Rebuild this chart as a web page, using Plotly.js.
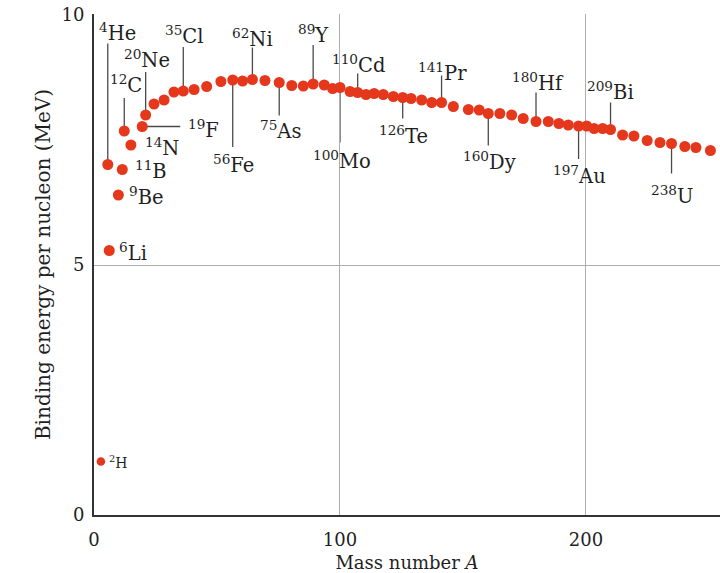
<!DOCTYPE html>
<html>
<head>
<meta charset="utf-8">
<script src="https://cdn.plot.ly/plotly-3.0.1.min.js"></script>
<style>
html,body{margin:0;padding:0;background:#fff;}
#chart{width:720px;height:573px;}
</style>
</head>
<body>
<div id="chart"></div>
<script>
// ---- data ----
const massNumber = [2.8, 5.6, 6.2, 9.9, 11.5, 12.3, 15.0, 19.6, 21.0, 24.4,
  28.5, 32.5, 36.3, 40.7, 45.8, 51.6, 56.4, 60.4, 64.4, 69.5,
  75.3, 80.4, 85.1, 89.1, 93.6, 97.0, 100.0, 104.1, 107.2, 110.6,
  113.9, 117.6, 121.7, 125.5, 128.9, 133.2, 137.3, 141.3, 146.1, 152.2,
  156.6, 160.3, 165.0, 169.8, 174.5, 179.7, 184.7, 189.0, 192.8, 197.0,
  200.3, 203.3, 206.8, 210.0, 214.9, 219.5, 224.9, 230.1, 234.8, 240.2,
  244.7, 250.6];
const bindingEnergy = [1.07, 7.01, 5.29, 6.40, 6.91, 7.68, 7.40, 7.77, 8.00, 8.22,
  8.30, 8.46, 8.48, 8.51, 8.57, 8.67, 8.70, 8.68, 8.71, 8.69,
  8.65, 8.59, 8.58, 8.62, 8.60, 8.53, 8.55, 8.47, 8.45, 8.41,
  8.43, 8.41, 8.37, 8.35, 8.33, 8.30, 8.25, 8.25, 8.17, 8.11,
  8.10, 8.03, 8.03, 8.00, 7.93, 7.87, 7.87, 7.83, 7.80, 7.78,
  7.78, 7.73, 7.73, 7.71, 7.60, 7.58, 7.49, 7.45, 7.43, 7.37,
  7.35, 7.29];

// labelled nuclides: index of the point, mass number text, element symbol
const labelPoint   = [0, 1, 2, 3, 4, 5, 6, 7, 8, 12, 16, 18, 20, 23, 26, 28, 33, 37, 41, 45, 49, 53, 58];
const labelMass    = ['2','4','6','9','11','12','14','19','20','35','56','62','75','89','100','110','126','141','160','180','197','209','238'];
const labelElement = ['H','He','Li','Be','B','C','N','F','Ne','Cl','Fe','Ni','As','Y','Mo','Cd','Te','Pr','Dy','Hf','Au','Bi','U'];

const xTickVals = [0, 100, 200];
const yTickVals = [0, 5, 10];

// ---- label placement (pixels, relative to the point) ----
const labelDx     = [6, 10, 8, 9, 11, 2, 12, 44, 1, 1, 1, 0, 1, 0, 2, 1, 1, 1, 1, 2, 1, 0, 0];
const labelDy     = [0, 133, -1, -1, 0, 47, -2, -2, 56, 56, -84, 42, -47, 50, -72, 29, -37, 31, -47, 40, -49, 39, -51];
const labelAnchor = ['left','center','left','left','left','center','left','left','center','center','center','center','center','center','center','center','center','center','center','center','center','center','center'];
// leader: 0 none, positive up, negative down (pixels); 'h' horizontal
const leaderLen   = [0, 121, 0, 0, 0, 33, 0, 'h', 43, 44, -67, 32, -33, 39, -55, 19, -21, 27, -32, 29, -33, 27, -30];
const horizLeader = 38;

const FONT = 'DejaVu Serif, Liberation Serif, serif';
const TXT = '#1f1f1f';
const DOT = '#e5371b';

const trace = {
  type: 'scatter',
  mode: 'markers',
  x: massNumber,
  y: bindingEnergy,
  marker: {
    color: DOT,
    opacity: 1,
    size: massNumber.map((_, i) => i === 0 ? 8.5 : 11),
    line: {width: 0}
  },
  hoverinfo: 'x+y',
  cliponaxis: false
};

const annotations = labelPoint.map((p, k) => ({
  xref: 'x', yref: 'y',
  x: massNumber[p], y: bindingEnergy[p],
  text: '<sup>' + labelMass[k] + '</sup>' + labelElement[k],
  showarrow: false,
  xanchor: labelAnchor[k], yanchor: 'middle',
  xshift: labelDx[k], yshift: labelDy[k],
  font: {family: FONT, size: k === 0 ? 14 : 19.5, color: TXT}
}));

const shapes = [];
labelPoint.forEach((p, k) => {
  const L = leaderLen[k];
  if (L === 0) return;
  if (L === 'h') {
    shapes.push({
      type: 'line', layer: 'below',
      xref: 'x', yref: 'y',
      xsizemode: 'pixel', xanchor: massNumber[p],
      x0: 0, x1: horizLeader,
      y0: bindingEnergy[p], y1: bindingEnergy[p],
      line: {color: '#4a4a4a', width: 1.3}
    });
  } else {
    shapes.push({
      type: 'line', layer: 'below',
      xref: 'x', yref: 'y',
      x0: massNumber[p], x1: massNumber[p],
      ysizemode: 'pixel', yanchor: bindingEnergy[p],
      y0: 0, y1: L,
      line: {color: '#4a4a4a', width: 1.3}
    });
  }
});

const layout = {
  width: 720, height: 573,
  margin: {l: 94, r: 0, t: 14, b: 58},
  paper_bgcolor: '#ffffff',
  plot_bgcolor: '#ffffff',
  showlegend: false,
  font: {family: FONT, color: TXT, size: 18},
  xaxis: {
    range: [0, 254.5],
    tickvals: xTickVals,
    ticktext: xTickVals.map(String),
    ticks: '',
    showgrid: true, gridcolor: '#adadad', gridwidth: 1,
    zeroline: false,
    showline: true, linecolor: '#333333', linewidth: 2,
    tickfont: {family: FONT, size: 18, color: TXT},
    ticklabelstandoff: 7,
    title: {text: 'Mass number <i>A</i>', font: {family: FONT, size: 18, color: TXT}, standoff: 10},
    automargin: false,
    fixedrange: true
  },
  yaxis: {
    range: [0, 10.02],
    tickvals: yTickVals,
    ticktext: yTickVals.map(String),
    ticks: '',
    showgrid: true, gridcolor: '#adadad', gridwidth: 1,
    zeroline: false,
    showline: true, linecolor: '#333333', linewidth: 2,
    tickfont: {family: FONT, size: 18, color: TXT},
    ticklabelstandoff: 4,
    title: {text: 'Binding energy per nucleon (MeV)', font: {family: FONT, size: 20, color: TXT}, standoff: 5},
    automargin: false,
    fixedrange: true
  },
  annotations: annotations,
  shapes: shapes
};

Plotly.newPlot('chart', [trace], layout, {displayModeBar: false, staticPlot: true});
</script>
</body>
</html>
